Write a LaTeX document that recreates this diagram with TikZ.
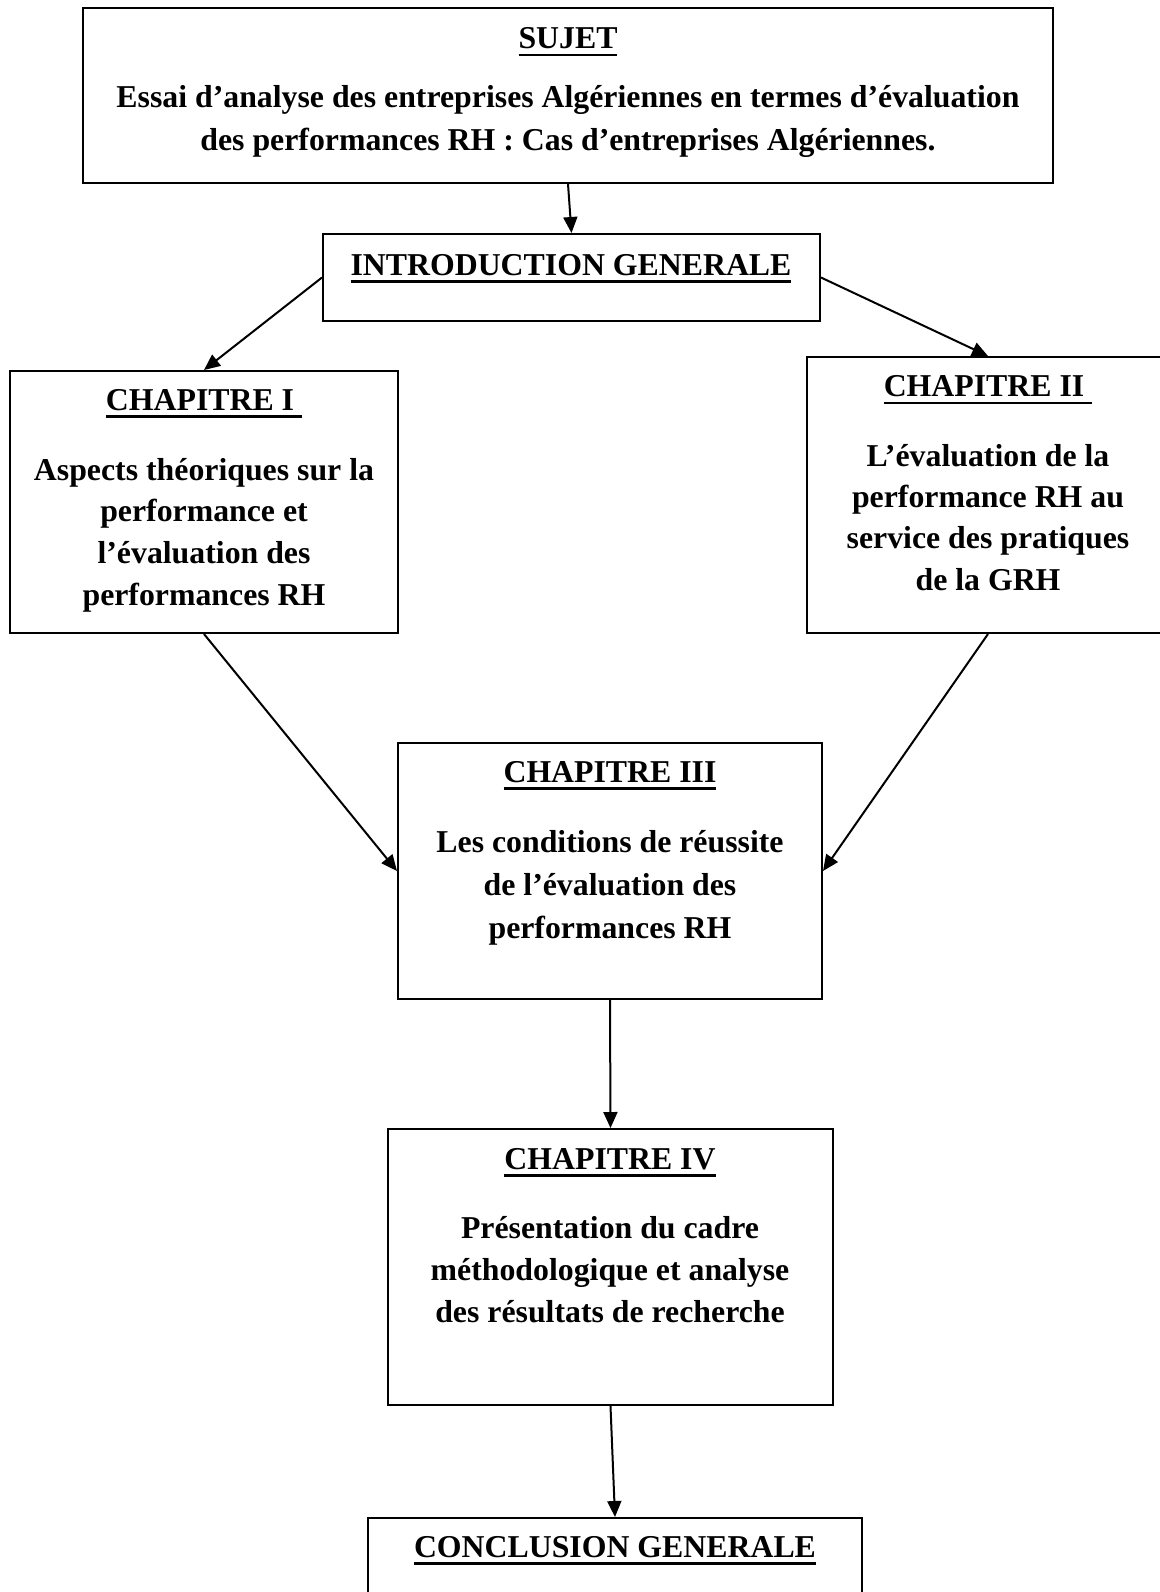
\documentclass[tikz,border=0pt]{standalone}
\usepackage{fontspec}
\setmainfont{Liberation Serif}
\usetikzlibrary{arrows.meta}
% heading text with a thick rule underneath
\newcommand\hdline[1]{\setbox0=\hbox{#1}\leavevmode\rlap{\raisebox{-3.9pt}{\rule{\wd0}{1.4pt}}}\box0}
\begin{document}
\begin{tikzpicture}[x=0.5pt,y=-0.5pt,
  box/.style={draw,line width=1pt,rectangle,inner sep=0pt},
  txt/.style={anchor=base,inner sep=0pt,font=\bfseries\fontsize{15.9pt}{20.85pt}\selectfont},
  link/.style={line width=1pt,-{Triangle[length=8pt,width=7pt]}}]
\useasboundingbox (0,0) rectangle (1160,1592);
\clip (0,0) rectangle (1160,1592);

% frames
\node[box,minimum width=485pt,minimum height=87.5pt] (sujet) at (568,95.5) {};
\node[box,minimum width=248.5pt,minimum height=43.5pt] (intro) at (571.5,277.5) {};
\node[box,minimum width=194pt,minimum height=131pt] (chI) at (204,502) {};
\node[box,minimum width=181pt,minimum height=138pt] (chII) at (988,495) {};
\node[box,minimum width=212pt,minimum height=128pt] (chIII) at (610,871) {};
\node[box,minimum width=222.5pt,minimum height=138pt] (chIV) at (610.5,1267) {};
\node[box,minimum width=247pt,minimum height=61pt] (concl) at (615,1579) {};

% subject
\node[txt] (sujetH) at (568,48.5) {\hdline{SUJET}};
\node[txt] (sujetA) at (568,107.5) {Essai d’analyse des entreprises Algériennes en termes d’évaluation};
\node[txt] (sujetB) at (568,150) {des performances RH : Cas d’entreprises Algériennes.};

% introduction
\node[txt] (introH) at (571,275) {\hdline{INTRODUCTION GENERALE}};

% chapter I
\node[txt] (chIH) at (204,410) {\hdline{CHAPITRE I\ }};
\node[txt] (chIa) at (204,480) {Aspects théoriques sur la};
\node[txt] (chIb) at (204,521.5) {performance et};
\node[txt] (chIc) at (204,563) {l’évaluation des};
\node[txt] (chId) at (204,605) {performances RH};

% chapter II
\node[txt] (chIIH) at (988,396.5) {\hdline{CHAPITRE II\ }};
\node[txt] (chIIa) at (988,466) {L’évaluation de la};
\node[txt] (chIIb) at (988,507) {performance RH au};
\node[txt] (chIIc) at (988,548.5) {service des pratiques};
\node[txt] (chIId) at (988,590.5) {de la GRH};

% chapter III
\node[txt] (chIIIH) at (610,782) {\hdline{CHAPITRE III}};
\node[txt] (chIIIa) at (610,852) {Les conditions de réussite};
\node[txt] (chIIIb) at (610,895) {de l’évaluation des};
\node[txt] (chIIIc) at (610,938) {performances RH};

% chapter IV
\node[txt] (chIVH) at (610,1169) {\hdline{CHAPITRE IV}};
\node[txt] (chIVa) at (610,1238) {Présentation du cadre};
\node[txt] (chIVb) at (610,1280) {méthodologique et analyse};
\node[txt] (chIVc) at (610,1322) {des résultats de recherche};

% conclusion
\node[txt] (conclH) at (615,1557) {\hdline{CONCLUSION GENERALE}};

% connectors
\draw[link] (sujet.south) -- (intro.north);
\draw[link] (intro.west) -- (chI.north);
\draw[link] (intro.east) -- (chII.north);
\draw[link] (chI.south) -- (chIII.west);
\draw[link] (chII.south) -- (chIII.east);
\draw[link] (chIII.south) -- (chIV.north);
\draw[link] (chIV.south) -- (concl.north);
\end{tikzpicture}
\end{document}
